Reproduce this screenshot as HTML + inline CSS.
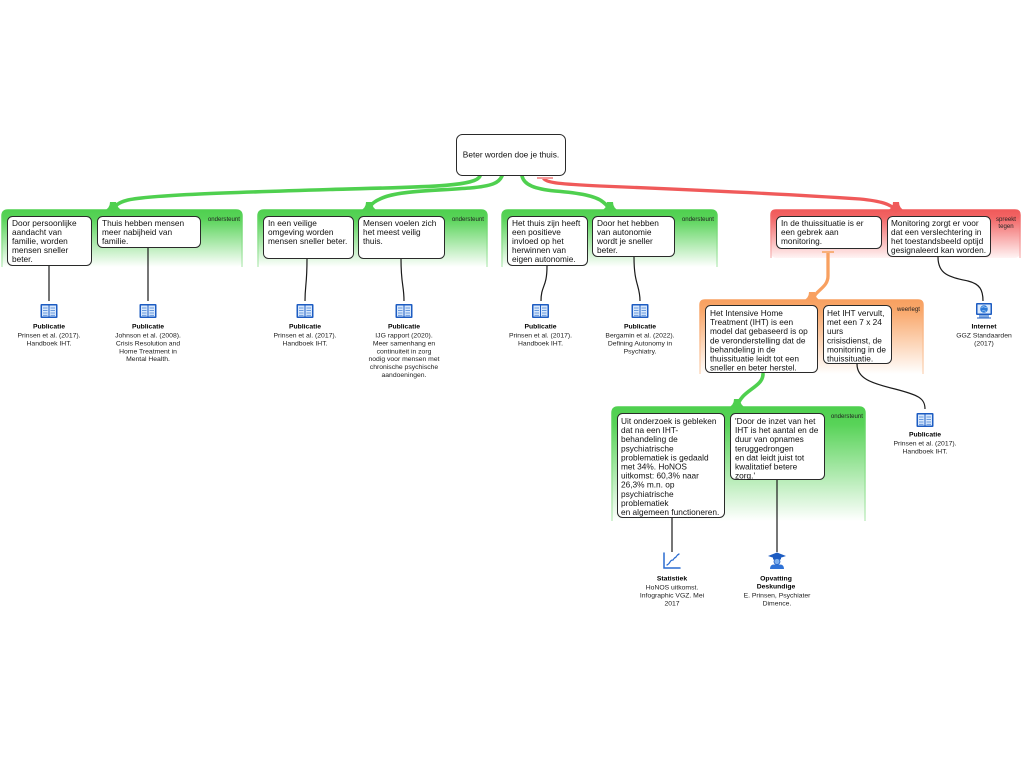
<!DOCTYPE html>
<html><head><meta charset="utf-8"><style>
html,body{margin:0;padding:0;background:#fff;}
svg{display:block;}
text{font-family:"Liberation Sans",Arial,sans-serif;}
.bt{font-size:8.3px;fill:#111;}
.cap{font-size:6.8px;fill:#222;text-anchor:middle;}
.capb{font-size:6.8px;fill:#000;font-weight:bold;text-anchor:middle;}
.gl{font-size:6.1px;fill:#222;text-anchor:end;}
.box{fill:#fff;stroke:#2a2a2a;stroke-width:1;}
.ln{fill:none;stroke:#1a1a1a;stroke-width:1.2;}
</style></head><body>
<svg width="1024" height="768" viewBox="0 0 1024 768" xmlns="http://www.w3.org/2000/svg">
<defs>
<linearGradient id="gG" x1="0" y1="0" x2="0" y2="1"><stop offset="0" stop-color="#4fd04f"/><stop offset="0.15" stop-color="#58d358"/><stop offset="1" stop-color="#ffffff"/></linearGradient>
<linearGradient id="gGs" x1="0" y1="0" x2="0" y2="1"><stop offset="0" stop-color="#4fd04f"/><stop offset="1" stop-color="#c4eec4"/></linearGradient>
<linearGradient id="gR" x1="0" y1="0" x2="0" y2="1"><stop offset="0" stop-color="#f05a5a"/><stop offset="0.15" stop-color="#f26464"/><stop offset="1" stop-color="#fff4f4"/></linearGradient>
<linearGradient id="gRs" x1="0" y1="0" x2="0" y2="1"><stop offset="0" stop-color="#f05a5a"/><stop offset="1" stop-color="#f9c4c4"/></linearGradient>
<linearGradient id="gO" x1="0" y1="0" x2="0" y2="1"><stop offset="0" stop-color="#f8a060"/><stop offset="0.15" stop-color="#f9a86c"/><stop offset="1" stop-color="#ffffff"/></linearGradient>
<linearGradient id="gOs" x1="0" y1="0" x2="0" y2="1"><stop offset="0" stop-color="#f8a060"/><stop offset="1" stop-color="#fcdcc4"/></linearGradient>
<g id="book">
<rect x="0" y="0" width="17" height="14" rx="1" fill="#1d5cc2"/>
<rect x="1.5" y="1.5" width="6.5" height="11" fill="#d8e8fc"/>
<rect x="9" y="1.5" width="6.5" height="11" fill="#d8e8fc"/>
<g stroke="#4d86d6" stroke-width="0.8">
<line x1="2.5" y1="4" x2="7" y2="4"/><line x1="2.5" y1="6.5" x2="7" y2="6.5"/><line x1="2.5" y1="9" x2="7" y2="9"/><line x1="2.5" y1="11.3" x2="7" y2="11.3"/>
<line x1="10" y1="4" x2="14.5" y2="4"/><line x1="10" y1="6.5" x2="14.5" y2="6.5"/><line x1="10" y1="9" x2="14.5" y2="9"/><line x1="10" y1="11.3" x2="14.5" y2="11.3"/>
</g>
</g>
</defs>

<!-- Groups -->
<rect x="2" y="210" width="240" height="57" rx="6" fill="url(#gG)"/>
<path d="M2,267 L2,216 Q2,210 8,210 L236,210 Q242,210 242,216 L242,267" fill="none" stroke="url(#gGs)" stroke-width="1.5"/>
<rect x="258" y="210" width="229" height="57" rx="6" fill="url(#gG)"/>
<path d="M258,267 L258,216 Q258,210 264,210 L481,210 Q487,210 487,216 L487,267" fill="none" stroke="url(#gGs)" stroke-width="1.5"/>
<rect x="502" y="210" width="215" height="57" rx="6" fill="url(#gG)"/>
<path d="M502,267 L502,216 Q502,210 508,210 L711,210 Q717,210 717,216 L717,267" fill="none" stroke="url(#gGs)" stroke-width="1.5"/>
<rect x="771" y="210" width="249" height="48" rx="5" fill="url(#gR)"/>
<path d="M771,258 L771,215 Q771,210 776,210 L1015,210 Q1020,210 1020,215 L1020,258" fill="none" stroke="url(#gRs)" stroke-width="1.5"/>
<rect x="700" y="300" width="223" height="74" rx="5" fill="url(#gO)"/>
<path d="M700,374 L700,305 Q700,300 705,300 L918,300 Q923,300 923,305 L923,374" fill="none" stroke="url(#gOs)" stroke-width="1.5"/>
<rect x="612" y="407" width="253" height="114" rx="6" fill="url(#gG)"/>
<path d="M612,521 L612,413 Q612,407 618,407 L859,407 Q865,407 865,413 L865,521" fill="none" stroke="url(#gGs)" stroke-width="1.5"/>

<!-- group labels -->
<text class="gl" x="240" y="221">ondersteunt</text>
<text class="gl" x="484" y="221">ondersteunt</text>
<text class="gl" x="714" y="221">ondersteunt</text>
<text class="gl" x="1006" y="221" style="text-anchor:middle">spreekt</text>
<text class="gl" x="1006" y="228" style="text-anchor:middle">tegen</text>
<text class="gl" x="920" y="311">weerlegt</text>
<text class="gl" x="863" y="418">ondersteunt</text>

<!-- thick connectors -->
<g fill="none" stroke="#4fd04f" stroke-width="3.6" stroke-linecap="round">
<path d="M480,176 C476,187 420,187 330,189.5 C230,192.5 150,195 128,200 C118,202.5 114,206 113,211"/>
<path d="M502,176 C499,183 492,186 470,188 C430,191 395,191 380,199 C371,203 369,207 369,211"/>
<path d="M522,176 C524,185 535,189 555,191 C580,193 596,196 603,202 C607,205 609,208 610,211"/>
<path d="M763,374 C763,388 740,390 737,408"/>
</g>
<g fill="#4fd04f">
<path d="M104,211 Q110,208 110,202 L116,202 Q117,208 123,211 Z"/>
<path d="M360,211 Q366,208 366,202 L372,202 Q372,208 378,211 Z"/>
<path d="M601,211 Q607,208 607,202 L613,202 Q613,208 619,211 Z"/>
<path d="M728,408 Q734,405 734,399 L740,399 Q740,405 746,408 Z"/>
</g>
<path d="M544,179 C548,183 560,184 600,186 C700,190 800,195 860,199 C880,201 892,204 896,211" fill="none" stroke="#f05a5a" stroke-width="3.3" stroke-linecap="round"/>
<path d="M887,211 Q893,208 893,202 L899,202 Q899,208 905,211 Z" fill="#f05a5a"/>
<line x1="537" y1="178" x2="553" y2="178" stroke="#f49a9a" stroke-width="2"/>
<path d="M828,253 L828,276 C828,288 815,290 812,301" fill="none" stroke="#f8a060" stroke-width="3.3" stroke-linecap="round"/>
<path d="M803,301 Q809,298 809,292 L815,292 Q815,298 821,301 Z" fill="#f8a060"/>
<line x1="822" y1="252" x2="834" y2="252" stroke="#f8b07a" stroke-width="2"/>

<!-- thin connectors -->
<path class="ln" d="M49,266 L49,301"/>
<path class="ln" d="M148,248 L148,301"/>
<path class="ln" d="M307,259 C307,285 305,285 305,301"/>
<path class="ln" d="M401,259 C401,285 404,285 404,301"/>
<path class="ln" d="M547,266 C547,288 541,285 541,301"/>
<path class="ln" d="M634,257 C634,285 640,285 640,301"/>
<path class="ln" d="M938,257 C938,275 950,277 968,281 C980,284 983,290 983,301"/>
<path class="ln" d="M857,364 C857,378 870,383 895,389 C918,395 925,398 925,409"/>
<path class="ln" d="M672,518 L672,552"/>
<path class="ln" d="M777,480 L777,552"/>

<!-- Root -->
<rect class="box" x="456.5" y="134.5" width="109" height="41" rx="6" stroke-width="1.2"/>
<text class="bt" x="511" y="157.5" text-anchor="middle">Beter worden doe je thuis.</text>

<!-- Boxes -->
<rect class="box" x="7.5" y="216.5" width="84" height="49" rx="5"/>
<text class="bt" y="226"><tspan x="12">Door persoonlijke</tspan><tspan x="12" dy="9">aandacht van</tspan><tspan x="12" dy="9">familie, worden</tspan><tspan x="12" dy="9">mensen sneller</tspan><tspan x="12" dy="9">beter.</tspan></text>

<rect class="box" x="97.5" y="216.5" width="103" height="31" rx="5"/>
<text class="bt" y="226"><tspan x="102">Thuis hebben mensen</tspan><tspan x="102" dy="9">meer nabijheid van</tspan><tspan x="102" dy="9">familie.</tspan></text>

<rect class="box" x="263.5" y="216.5" width="90" height="42" rx="5"/>
<text class="bt" y="226"><tspan x="268">In een veilige</tspan><tspan x="268" dy="9">omgeving worden</tspan><tspan x="268" dy="9">mensen sneller beter.</tspan></text>

<rect class="box" x="358.5" y="216.5" width="86" height="42" rx="5"/>
<text class="bt" y="226"><tspan x="363">Mensen voelen zich</tspan><tspan x="363" dy="9">het meest veilig</tspan><tspan x="363" dy="9">thuis.</tspan></text>

<rect class="box" x="507.5" y="216.5" width="80" height="49" rx="5"/>
<text class="bt" y="226"><tspan x="512">Het thuis zijn heeft</tspan><tspan x="512" dy="9">een positieve</tspan><tspan x="512" dy="9">invloed op het</tspan><tspan x="512" dy="9">herwinnen van</tspan><tspan x="512" dy="9">eigen autonomie.</tspan></text>

<rect class="box" x="592.5" y="216.5" width="82" height="40" rx="5"/>
<text class="bt" y="226"><tspan x="597">Door het hebben</tspan><tspan x="597" dy="9">van autonomie</tspan><tspan x="597" dy="9">wordt je sneller</tspan><tspan x="597" dy="9">beter.</tspan></text>

<rect class="box" x="776.5" y="216.5" width="105" height="32" rx="5"/>
<text class="bt" y="226"><tspan x="781">In de thuissituatie is er</tspan><tspan x="781" dy="9">een gebrek aan</tspan><tspan x="781" dy="9">monitoring.</tspan></text>

<rect class="box" x="887.5" y="216.5" width="103" height="40" rx="5"/>
<text class="bt" y="226"><tspan x="891">Monitoring zorgt er voor</tspan><tspan x="891" dy="9">dat een verslechtering in</tspan><tspan x="891" dy="9">het toestandsbeeld optijd</tspan><tspan x="891" dy="9">gesignaleerd kan worden.</tspan></text>

<rect class="box" x="705.5" y="305.5" width="112" height="67" rx="5"/>
<text class="bt" y="316"><tspan x="710">Het Intensive Home</tspan><tspan x="710" dy="9.1">Treatment (IHT) is een</tspan><tspan x="710" dy="9.1">model dat gebaseerd is op</tspan><tspan x="710" dy="9.1">de veronderstelling dat de</tspan><tspan x="710" dy="9.1">behandeling in de</tspan><tspan x="710" dy="9.1">thuissituatie leidt tot een</tspan><tspan x="710" dy="9.1">sneller en beter herstel.</tspan></text>

<rect class="box" x="823.5" y="305.5" width="68" height="58" rx="5"/>
<text class="bt" y="316"><tspan x="827">Het IHT vervult,</tspan><tspan x="827" dy="9.1">met een 7 x 24</tspan><tspan x="827" dy="9.1">uurs</tspan><tspan x="827" dy="9.1">crisisdienst, de</tspan><tspan x="827" dy="9.1">monitoring in de</tspan><tspan x="827" dy="9.1">thuissituatie.</tspan></text>

<rect class="box" x="617.5" y="413.5" width="107" height="104" rx="5"/>
<text class="bt" y="424"><tspan x="621">Uit onderzoek is gebleken</tspan><tspan x="621" dy="9.1">dat na een IHT-</tspan><tspan x="621" dy="9.1">behandeling de</tspan><tspan x="621" dy="9.1">psychiatrische</tspan><tspan x="621" dy="9.1">problematiek is gedaald</tspan><tspan x="621" dy="9.1">met 34%.  HoNOS</tspan><tspan x="621" dy="9.1">uitkomst: 60,3% naar</tspan><tspan x="621" dy="9.1">26,3% m.n. op</tspan><tspan x="621" dy="9.1">psychiatrische</tspan><tspan x="621" dy="9.1">problematiek</tspan><tspan x="621" dy="9.1">en algemeen functioneren.</tspan></text>

<rect class="box" x="730.5" y="413.5" width="94" height="66" rx="5"/>
<text class="bt" y="424"><tspan x="735">'Door de inzet van het</tspan><tspan x="735" dy="9.1">IHT is het aantal en de</tspan><tspan x="735" dy="9.1">duur van opnames</tspan><tspan x="735" dy="9.1">teruggedrongen</tspan><tspan x="735" dy="9.1">en dat leidt juist tot</tspan><tspan x="735" dy="9.1">kwalitatief betere</tspan><tspan x="735" dy="9.1">zorg.'</tspan></text>

<!-- Icons -->
<use href="#book" x="40.5" y="304"/>
<use href="#book" x="139.5" y="304"/>
<use href="#book" x="296.5" y="304"/>
<use href="#book" x="395.5" y="304"/>
<use href="#book" x="532" y="304"/>
<use href="#book" x="631.5" y="304"/>
<use href="#book" x="916.5" y="413"/>

<!-- Internet icon -->
<g>
<rect x="976" y="303" width="16" height="12" rx="1" fill="#1d5cc2"/>
<rect x="977.5" y="304.5" width="13" height="9" fill="#dbeafc"/>
<circle cx="984" cy="309" r="3.8" fill="#2d7ad8"/>
<path d="M981.5,308 q1.5,-2 3,-1 q1,1 2.5,0 M982,311 q2,-1 4,0.5" stroke="#9cc8f4" stroke-width="0.8" fill="none"/>
<rect x="979" y="315" width="10" height="2.5" fill="#7fa8e0"/>
<rect x="977" y="317.5" width="14" height="1" fill="#1d5cc2"/>
</g>

<!-- Statistiek icon -->
<g fill="none" stroke-linecap="round">
<path d="M664,553 L664,568 L680,568" stroke="#2a6bd0" stroke-width="1.5"/>
<path d="M667,565 q2,-1 3,-3 q1,-2 3,-2 q1,-2 3,-3 q1,-2 3,-3" stroke="#2a6bd0" stroke-width="1.3"/>
</g>

<!-- Opvatting icon -->
<g>
<path d="M768,556 L777,552.5 L786,556 L777,559 Z" fill="#1d5cc2"/>
<rect x="773" y="557" width="8" height="2.5" fill="#1d5cc2"/>
<circle cx="777" cy="561.5" r="3" fill="#7fb0ee" stroke="#1d5cc2" stroke-width="0.8"/>
<path d="M770,569 Q770,564.5 774,564.5 L780,564.5 Q784,564.5 784,569 Z" fill="#2f72d6"/>
</g>

<!-- Captions -->
<text class="capb" x="49" y="328.5">Publicatie</text>
<text class="cap" y="337.5"><tspan x="49">Prinsen et al. (2017).</tspan><tspan x="49" dy="7.9">Handboek IHT.</tspan></text>

<text class="capb" x="148" y="328.5">Publicatie</text>
<text class="cap" y="337.5"><tspan x="148">Johnson et al. (2008).</tspan><tspan x="148" dy="7.9">Crisis Resolution and</tspan><tspan x="148" dy="7.9">Home Treatment in</tspan><tspan x="148" dy="7.9">Mental Health.</tspan></text>

<text class="capb" x="305" y="328.5">Publicatie</text>
<text class="cap" y="337.5"><tspan x="305">Prinsen et al. (2017).</tspan><tspan x="305" dy="7.9">Handboek IHT.</tspan></text>

<text class="capb" x="404" y="328.5">Publicatie</text>
<text class="cap" y="337.5"><tspan x="404">IJG rapport (2020).</tspan><tspan x="404" dy="7.9">Meer samenhang en</tspan><tspan x="404" dy="7.9">continuiteit in zorg</tspan><tspan x="404" dy="7.9">nodig voor mensen met</tspan><tspan x="404" dy="7.9">chronische psychische</tspan><tspan x="404" dy="7.9">aandoeningen.</tspan></text>

<text class="capb" x="540.5" y="328.5">Publicatie</text>
<text class="cap" y="337.5"><tspan x="540.5">Prinsen et al. (2017).</tspan><tspan x="540.5" dy="7.9">Handboek IHT.</tspan></text>

<text class="capb" x="640" y="328.5">Publicatie</text>
<text class="cap" y="337.5"><tspan x="640">Bergamin et al. (2022).</tspan><tspan x="640" dy="7.9">Defining Autonomy in</tspan><tspan x="640" dy="7.9">Psychiatry.</tspan></text>

<text class="capb" x="984" y="328.5">Internet</text>
<text class="cap" y="337.5"><tspan x="984">GGZ Standaarden</tspan><tspan x="984" dy="7.9">(2017)</tspan></text>

<text class="capb" x="925" y="436.5">Publicatie</text>
<text class="cap" y="445.5"><tspan x="925">Prinsen et al. (2017).</tspan><tspan x="925" dy="7.9">Handboek IHT.</tspan></text>

<text class="capb" x="672" y="580.5">Statistiek</text>
<text class="cap" y="589.5"><tspan x="672">HoNOS uitkomst.</tspan><tspan x="672" dy="7.9">Infographic VGZ. Mei</tspan><tspan x="672" dy="7.9">2017</tspan></text>

<text class="capb" y="580.5"><tspan x="776">Opvatting</tspan><tspan x="776" dy="8">Deskundige</tspan></text>
<text class="cap" y="597.5"><tspan x="777">E. Prinsen, Psychiater</tspan><tspan x="777" dy="7.9">Dimence.</tspan></text>
</svg>
</body></html>
